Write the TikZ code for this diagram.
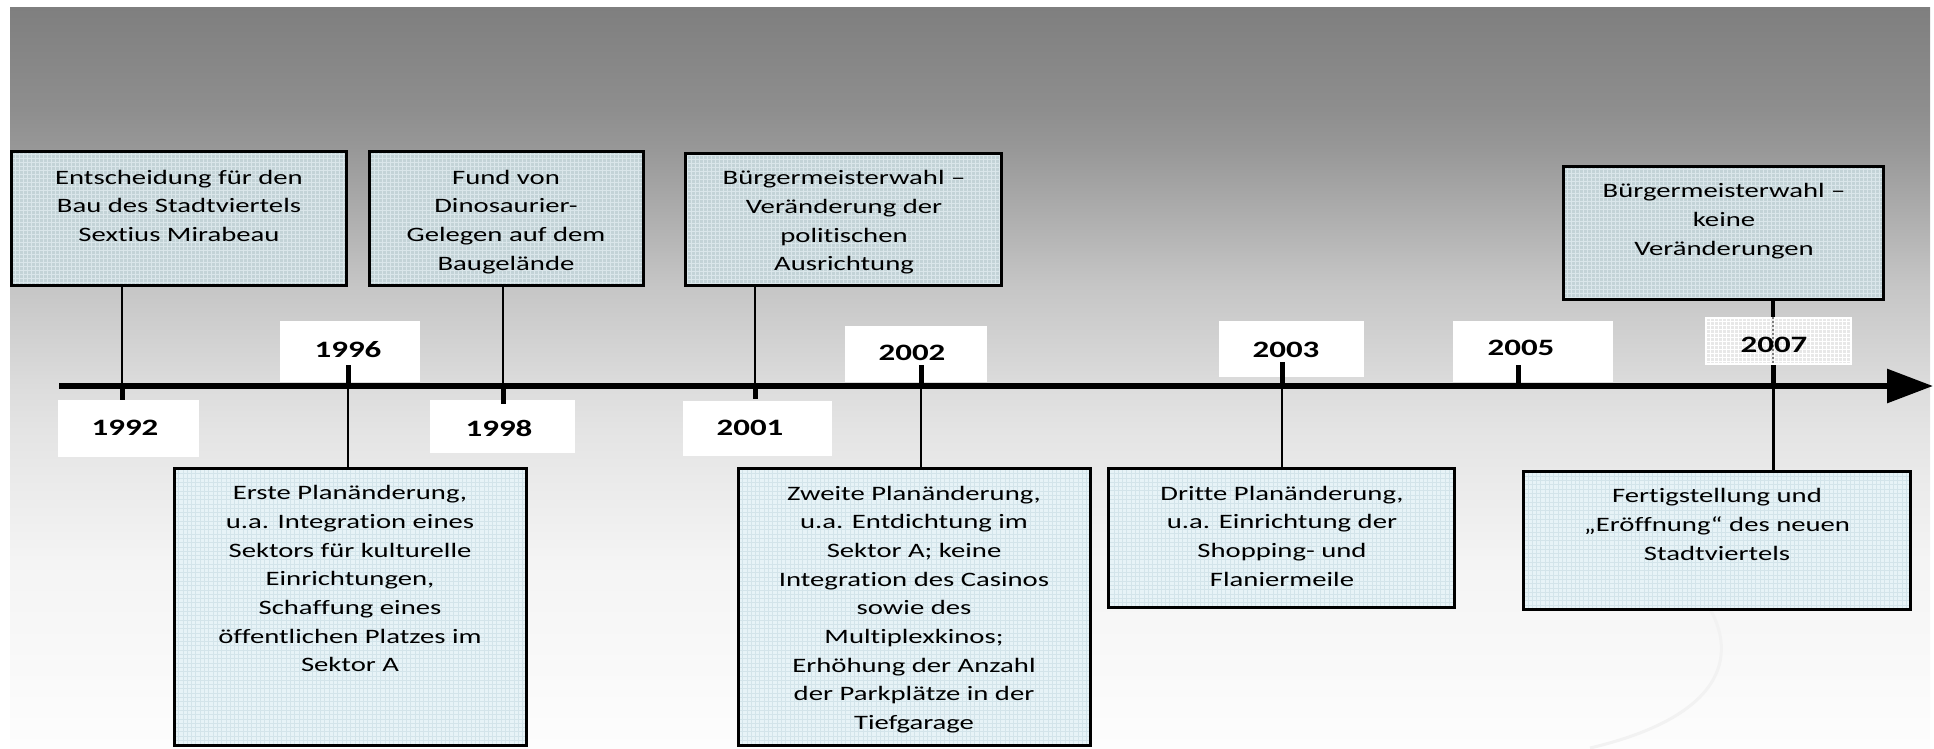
\documentclass[tikz,border=0pt]{standalone}
\usepackage{fontspec}
\setmainfont{Carlito}[FakeStretch=1.4, Ligatures=NoCommon]
\usetikzlibrary{arrows.meta}
\definecolor{upfill}{HTML}{C3D3D7}
\definecolor{upgrid}{HTML}{DAE6EA}
\definecolor{lofill}{HTML}{E7F3F7}
\definecolor{logrid}{HTML}{D3E4EA}
\definecolor{labfill}{HTML}{E8E8E8}
\pgfdeclareverticalshading{bgshade}{100bp}{
rgb(0bp)=(0.992,0.992,0.992);
rgb(25bp)=(0.992,0.992,0.992);
rgb(37.69bp)=(0.957,0.957,0.957);
rgb(46.46bp)=(0.894,0.894,0.894);
rgb(49.43bp)=(0.863,0.863,0.863);
rgb(56.11bp)=(0.776,0.776,0.776);
rgb(65.35bp)=(0.596,0.596,0.596);
rgb(68.05bp)=(0.557,0.557,0.557);
rgb(75bp)=(0.498,0.498,0.498);
rgb(100bp)=(0.498,0.498,0.498)}
\tikzset{
  txt/.style={font=\fontsize{20.5pt}{28.7pt}\selectfont, align=center, inner sep=0pt, yshift=-4pt,
    execute at begin node=\strut, execute at end node=\strut},
  yr/.style={font=\fontsize{23.5pt}{28pt}\selectfont\bfseries, inner sep=0pt},
  upbox/.style={draw=black, line width=3pt, fill=upfill,
    path picture={\draw[upgrid, line width=0.9pt] (path picture bounding box.south west) grid[step=4pt] (path picture bounding box.north east);}},
  lobox/.style={draw=black, line width=3pt, fill=lofill,
    path picture={\draw[logrid, line width=0.6pt] (path picture bounding box.south west) grid[step=4.3pt] (path picture bounding box.north east);}},
  yrbox/.style={fill=white, inner sep=0pt},
  labbox/.style={draw=white, line width=2pt, fill=labfill, inner sep=0pt,
    path picture={\draw[white, line width=0.8pt] (path picture bounding box.south west) grid[step=4pt] (path picture bounding box.north east);}},
  conn/.style={line width=2.6pt, black},
  tickline/.style={line width=5pt, black},
  dashline/.style={line width=2pt, gray, dash pattern=on 2pt off 2pt},
}
\begin{document}
\begin{tikzpicture}[x=1pt, y=-1pt]
\useasboundingbox (0,0) rectangle (1934,748);
% background
\shade[shading=bgshade] (10,7) rectangle (1930,748);
% faint swoosh
\draw[black!5, line width=3pt] (1703,598) .. controls (1740,650) and (1730,715) .. (1590,748);

% year label rectangles
\node[yrbox, minimum width=141pt, minimum height=57pt] (r1992) at (128.5,428.5) {};
\node[yrbox, minimum width=140pt, minimum height=61pt] (r1996) at (350,351.5) {};
\node[yrbox, minimum width=145pt, minimum height=53pt] (r1998) at (502.5,426.5) {};
\node[yrbox, minimum width=149pt, minimum height=55pt] (r2001) at (757.5,428.5) {};
\node[yrbox, minimum width=142pt, minimum height=56pt] (r2002) at (916,354) {};
\node[yrbox, minimum width=145pt, minimum height=56pt] (r2003) at (1291.5,349) {};
\node[yrbox, minimum width=160pt, minimum height=61pt] (r2005) at (1533,351.5) {};
\node[labbox, minimum width=145pt, minimum height=46pt] (r2007) at (1778.5,341) {};

% timeline coordinates
\coordinate (tlA) at (59,386);
\coordinate (tlB) at (1933,386);
\coordinate (t1992) at (122,386);
\coordinate (t1996) at (348,386);
\coordinate (t1998) at (503,386);
\coordinate (t2001) at (755,386);
\coordinate (t2002) at (921,386);
\coordinate (t2003) at (1282,386);
\coordinate (t2005) at (1518,386);
\coordinate (t2007) at (1773,386);

% upper boxes
\node[upbox, minimum width=335pt, minimum height=134pt] (b1992) at (179,218.5) {};
\node[upbox, minimum width=274pt, minimum height=134pt] (b1998) at (506.5,218.5) {};
\node[upbox, minimum width=316pt, minimum height=132pt] (b2001) at (843.5,219.5) {};
\node[upbox, minimum width=320pt, minimum height=133pt] (b2007) at (1723.5,233) {};
% lower boxes
\node[lobox, minimum width=352pt, minimum height=277pt] (l1996) at (350.5,607) {};
\node[lobox, minimum width=352pt, minimum height=277pt] (l2002) at (914.5,607) {};
\node[lobox, minimum width=346pt, minimum height=139pt] (l2003) at (1281.5,538) {};
\node[lobox, minimum width=387pt, minimum height=138pt] (l2007) at (1717,540.5) {};

% connectors
\draw[conn] (b1992.south -| t1992) -- (t1992);
\draw[tickline] (t1992) -- ++(0,14);
\draw[conn] (b1998.south -| t1998) -- (t1998);
\draw[tickline] (t1998) -- ++(0,18);
\draw[conn] (b2001.south -| t2001) -- (t2001);
\draw[tickline] (t2001) -- ++(0,13);
\draw[tickline] (t1996) -- ++(0,-21);
\draw[conn] (t1996) -- (l1996.north -| t1996);
\draw[tickline] (t2002) -- ++(0,-21);
\draw[conn] (t2002) -- (l2002.north -| t2002);
\draw[tickline] (t2003) -- ++(0,-24);
\draw[conn] (t2003) -- (l2003.north -| t2003);
\draw[tickline] (t2005) -- ++(0,-21);
\draw[line width=3.4pt] (b2007.south -| t2007) -- (r2007.north -| t2007);
\draw[dashline] (r2007.north -| t2007) -- (r2007.south -| t2007);
\draw[tickline] (r2007.south -| t2007) -- (t2007);
\draw[line width=3pt] (t2007) -- (l2007.north -| t2007);

% timeline arrow
\draw[line width=6pt, -{Triangle[length=46pt,width=33pt]}] (tlA) -- (tlB);

% year texts
\node[yr] (y1992) at (125,428) {1992};
\node[yr] (y1996) at (348,350) {1996};
\node[yr] (y1998) at (499,428) {1998};
\node[yr] (y2001) at (750,428) {2001};
\node[yr] (y2002) at (912,353) {2002};
\node[yr] (y2003) at (1286,350) {2003};
\node[yr] (y2005) at (1521,348) {2005};
\node[yr] (y2007) at (1774,345) {2007};

% box texts
\node[txt] (b1992t) at (179,206) {Entscheidung für den\\Bau des Stadtviertels\\Sextius Mirabeau};
\node[txt] (b1998t) at (506,220.5) {Fund von\\Dinosaurier-\\Gelegen auf dem\\Baugelände};
\node[txt] (b2001t) at (844,221) {Bürgermeisterwahl –\\Veränderung der\\politischen\\Ausrichtung};
\node[txt] (b2007t) at (1724,219.5) {Bürgermeisterwahl –\\keine\\Veränderungen};
\node[txt] (l1996t) at (350,579) {Erste Planänderung,\\u.a. Integration eines\\Sektors für kulturelle\\Einrichtungen,\\Schaffung eines\\öffentlichen Platzes im\\Sektor A};
\node[txt] (l2002t) at (914,608) {Zweite Planänderung,\\u.a. Entdichtung im\\Sektor A; keine\\Integration des Casinos\\sowie des\\Multiplexkinos;\\Erhöhung der Anzahl\\der Parkplätze in der\\Tiefgarage};
\node[txt] (l2003t) at (1282,536.5) {Dritte Planänderung,\\u.a. Einrichtung der\\Shopping- und\\Flaniermeile};
\node[txt] (l2007t) at (1717,524.5) {Fertigstellung und\\„Eröffnung“ des neuen\\Stadtviertels};
\end{tikzpicture}
\end{document}
